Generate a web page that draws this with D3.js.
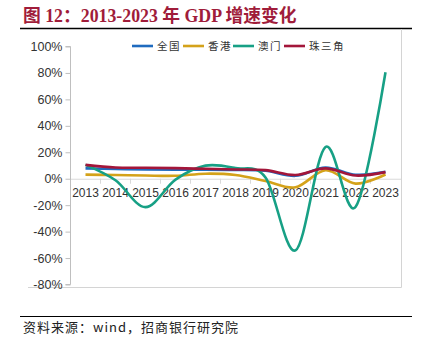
<!DOCTYPE html>
<html><head><meta charset="utf-8">
<script src="https://cdn.jsdelivr.net/npm/d3@7"></script>
<style>
html,body{margin:0;padding:0;background:#fff;}
svg{display:block;}
</style></head>
<body>
<svg id="c" width="424" height="341"></svg>
<script>
const years = ["2013","2014","2015","2016","2017","2018","2019","2020","2021","2022","2023"];
const seriesNames = ["全国","香港","澳门","珠三角"];
const national = [7.8, 7.4, 7.0, 6.8, 6.9, 6.7, 6.0, 2.2, 8.4, 3.0, 5.2];
const hongkong = [3.1, 2.8, 2.4, 2.2, 3.8, 2.8, -1.7, -6.5, 6.4, -3.7, 3.2];
const macau = [10.5, -1.2, -21.5, -0.7, 9.9, 8.0, 1.0, -54.2, 24.0, -21.4, 80.5];
const prd = [10.5, 8.5, 8.3, 8.0, 7.5, 7.0, 6.5, 2.8, 7.8, 2.4, 5.0];
const yTicks = [100, 80, 60, 40, 20, 0, -20, -40, -60, -80];
const colors = ["#1f6bbf", "#d4a21a", "#17a085", "#a3163a"];

const svg = d3.select("#c");
const seriesData = [national, hongkong, macau, prd];

// title
svg.append("text").attr("x", 23).attr("y", 22)
  .attr("font-family", "'Liberation Serif','Noto Sans CJK SC',serif")
  .attr("font-weight", "bold").attr("font-size", 17.8).attr("fill", "#a01c3a")
  .text("图 12：2013-2023 年 GDP 增速变化");
svg.append("line").attr("x1", 20).attr("x2", 412).attr("y1", 28.5).attr("y2", 28.5)
  .attr("stroke", "#000").attr("stroke-width", 1.5);

// frame
svg.append("line").attr("x1", 401.5).attr("x2", 401.5).attr("y1", 29).attr("y2", 287.5)
  .attr("stroke", "#d4d4d4").attr("stroke-width", 1);
svg.append("line").attr("x1", 28).attr("x2", 401.5).attr("y1", 287.5).attr("y2", 287.5)
  .attr("stroke", "#d4d4d4").attr("stroke-width", 1);

const x = d3.scaleBand().domain(years).range([70.5, 400.5]);
const y = d3.scaleLinear().domain([-80, 100]).range([284.5, 46.5]);

// y axis
const yAxis = svg.append("g").attr("transform", "translate(70.5,0)")
  .call(d3.axisLeft(y).tickValues(yTicks).tickSize(5).tickFormat(d => d + "%"));
yAxis.select(".domain").attr("stroke", "#bfbfbf").attr("d", `M-5,${y(100)}H0V${y(-80)}H-5`);
yAxis.selectAll(".tick line").attr("stroke", "#bfbfbf");
yAxis.selectAll(".tick text").attr("font-family", "'Liberation Sans',Arial,sans-serif")
  .attr("font-size", 12.5).attr("fill", "#333").attr("x", -8);

// x axis at zero
const xAxis = svg.append("g").attr("transform", `translate(0,${y(0)})`)
  .call(d3.axisBottom(x).tickSize(0));
xAxis.select(".domain").attr("stroke", "#d9d9d9");
xAxis.selectAll(".tick text").attr("font-family", "'Liberation Sans',Arial,sans-serif")
  .attr("font-size", 12).attr("fill", "#333").attr("dy", "1.3em");
// band boundary ticks
svg.append("g").selectAll("line").data(years.slice(1)).join("line")
  .attr("x1", d => x(d)).attr("x2", d => x(d))
  .attr("y1", y(0)).attr("y2", y(0) + 5).attr("stroke", "#d9d9d9");

// lines
const line = d3.line()
  .x((d, i) => x(years[i]) + x.bandwidth() / 2)
  .y(d => y(d))
  .curve(d3.curveCardinal.tension(0));
svg.append("g").selectAll("path").data(seriesData).join("path")
  .attr("d", d => line(d)).attr("fill", "none")
  .attr("stroke", (d, i) => colors[i]).attr("stroke-width", 2.6);

// legend
const legX = [132, 183, 233, 284];
const leg = svg.append("g").selectAll("g").data(seriesNames).join("g")
  .attr("transform", (d, i) => `translate(${legX[i]},46)`);
leg.append("line").attr("x1", 0).attr("x2", 21).attr("y1", 0).attr("y2", 0)
  .attr("stroke", (d, i) => colors[i]).attr("stroke-width", 2.6);
leg.append("text").attr("x", 25).attr("y", 4)
  .attr("font-family", "'Noto Sans CJK SC',sans-serif").attr("font-size", 10.5)
  .attr("fill", "#333").attr("letter-spacing", 1.5).text(d => d);

// source
svg.append("line").attr("x1", 20).attr("x2", 412).attr("y1", 316.5).attr("y2", 316.5)
  .attr("stroke", "#000").attr("stroke-width", 1.2);
svg.append("text").attr("x", 23).attr("y", 332)
  .attr("font-family", "'Noto Sans CJK SC',monospace").attr("font-size", 13)
  .attr("fill", "#222").attr("letter-spacing", 1)
  .text("资料来源：wind，招商银行研究院");
</script>
</body></html>
